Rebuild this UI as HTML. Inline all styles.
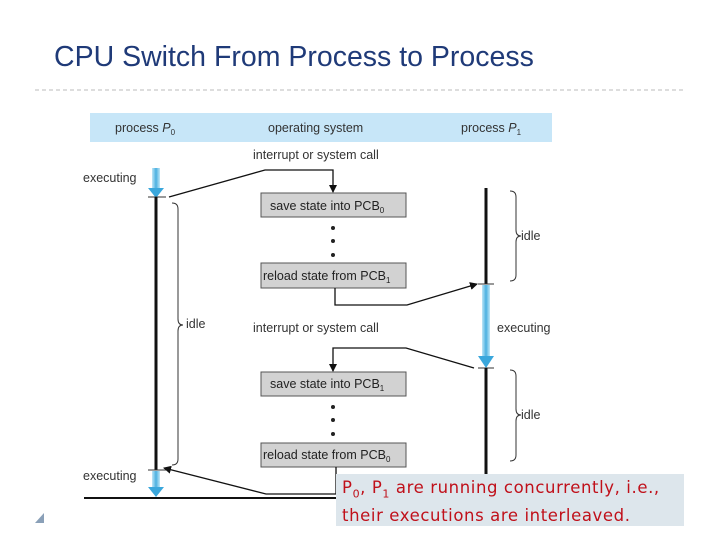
<!DOCTYPE html>
<html><head><meta charset="utf-8"><style>
body{margin:0;width:720px;height:540px;background:#fff;overflow:hidden;position:relative;font-family:"Liberation Sans",sans-serif}
.t{position:absolute;left:54px;top:41px;font-size:28.5px;color:#1f3a78;white-space:nowrap}
</style></head><body>
<div class="t">CPU Switch From Process to Process</div>
<svg width="720" height="540" style="position:absolute;left:0;top:0" font-family="Liberation Sans, sans-serif">
<defs>
<marker id="a" markerWidth="8" markerHeight="8" refX="7" refY="4" orient="auto" markerUnits="userSpaceOnUse"><path d="M0,0L8,4L0,8z" fill="#111"/></marker>
<linearGradient id="g" x1="0" x2="1"><stop offset="0" stop-color="#bfe6f7"/><stop offset="0.5" stop-color="#4ab0e0"/><stop offset="1" stop-color="#bfe6f7"/></linearGradient>
</defs>
<line x1="35" y1="90" x2="685" y2="90" stroke="#bbb" stroke-dasharray="4,3"/>
<rect x="90" y="113" width="462" height="29" fill="#c7e6f8"/>
<g font-size="12.5" fill="#333">
<text x="115" y="132">process <tspan font-style="italic">P</tspan><tspan font-size="8" dy="3">0</tspan></text>
<text x="268" y="132">operating system</text>
<text x="461" y="132">process <tspan font-style="italic">P</tspan><tspan font-size="8" dy="3">1</tspan></text>
<text x="253" y="159">interrupt or system call</text>
<text x="83" y="182">executing</text>
<text x="521" y="240">idle</text>
<text x="186" y="328">idle</text>
<text x="253" y="332">interrupt or system call</text>
<text x="497" y="332">executing</text>
<text x="521" y="419">idle</text>
<text x="83" y="480">executing</text>
</g>
<rect x="152" y="168" width="8" height="24" fill="url(#g)"/><path d="M148,188L164,188L156,198z" fill="#3aa7dc"/>
<line x1="148" y1="197" x2="166" y2="197" stroke="#333"/>
<line x1="156" y1="197" x2="156" y2="470" stroke="#111" stroke-width="3"/>
<line x1="148" y1="470" x2="166" y2="470" stroke="#333"/>
<rect x="152" y="471" width="8" height="20" fill="url(#g)"/><path d="M148,487L164,487L156,497z" fill="#3aa7dc"/>
<line x1="84" y1="498" x2="340" y2="498" stroke="#111" stroke-width="2"/>
<line x1="486" y1="188" x2="486" y2="284" stroke="#111" stroke-width="3"/>
<line x1="478" y1="284" x2="494" y2="284" stroke="#333"/>
<rect x="482" y="285" width="8" height="72" fill="url(#g)"/><path d="M478,356L494,356L486,368z" fill="#3aa7dc"/>
<line x1="478" y1="368" x2="494" y2="368" stroke="#333"/>
<line x1="486" y1="368" x2="486" y2="495" stroke="#111" stroke-width="3"/>
<g fill="none" stroke="#333" stroke-width="1">
<path d="M172,203 q6,0 6,6 v110 q0,6 5,6 q-5,0 -5,6 v128 q0,6 -6,6"/>
<path d="M510,191 q6,0 6,6 v33 q0,6 5,6 q-5,0 -5,6 v33 q0,6 -6,6"/>
<path d="M510,370 q6,0 6,6 v33 q0,6 5,6 q-5,0 -5,6 v34 q0,6 -6,6"/>
</g>
<g stroke="#555" fill="#d2d2d2"><rect x="261" y="193" width="145" height="24"/><rect x="261" y="263" width="145" height="25"/><rect x="261" y="372" width="145" height="24"/><rect x="261" y="443" width="145" height="24"/></g>
<g font-size="12.5" fill="#222">
<text x="270" y="210">save state into PCB<tspan font-size="8" dy="3">0</tspan></text>
<text x="263" y="280">reload state from PCB<tspan font-size="8" dy="3">1</tspan></text>
<text x="270" y="388">save state into PCB<tspan font-size="8" dy="3">1</tspan></text>
<text x="263" y="459">reload state from PCB<tspan font-size="8" dy="3">0</tspan></text>
</g>
<g fill="#222"><circle cx="333" cy="228" r="2"/><circle cx="333" cy="241" r="2"/><circle cx="333" cy="255" r="2"/><circle cx="333" cy="407" r="2"/><circle cx="333" cy="420" r="2"/><circle cx="333" cy="434" r="2"/></g>
<g fill="none" stroke="#111" stroke-width="1.3">
<path d="M169,197 L265,170 L333,170 L333,192" marker-end="url(#a)"/>
<path d="M335,288 L335,305 L407,305 L477,284" marker-end="url(#a)"/>
<path d="M474,368 L406,348 L333,348 L333,371" marker-end="url(#a)"/>
<path d="M336,467 L336,494 L266,494 L164,468" marker-end="url(#a)"/>
</g>
<path d="M35,523L44,513L44,523z" fill="#8aa0b8"/>
</svg>
<div style="position:absolute;left:336px;top:474px;width:348px;height:52px;background:#dde6ec;color:#c0101a;font-family:'DejaVu Sans',sans-serif;font-size:16.5px;letter-spacing:0.6px;line-height:22px;padding:3px 0 0 6px;box-sizing:border-box;white-space:nowrap;overflow:hidden">P<sub style="font-size:11px">0</sub>, P<sub style="font-size:11px">1</sub> are running concurrently, i.e.,<br>their executions are interleaved.</div>
</body></html>
